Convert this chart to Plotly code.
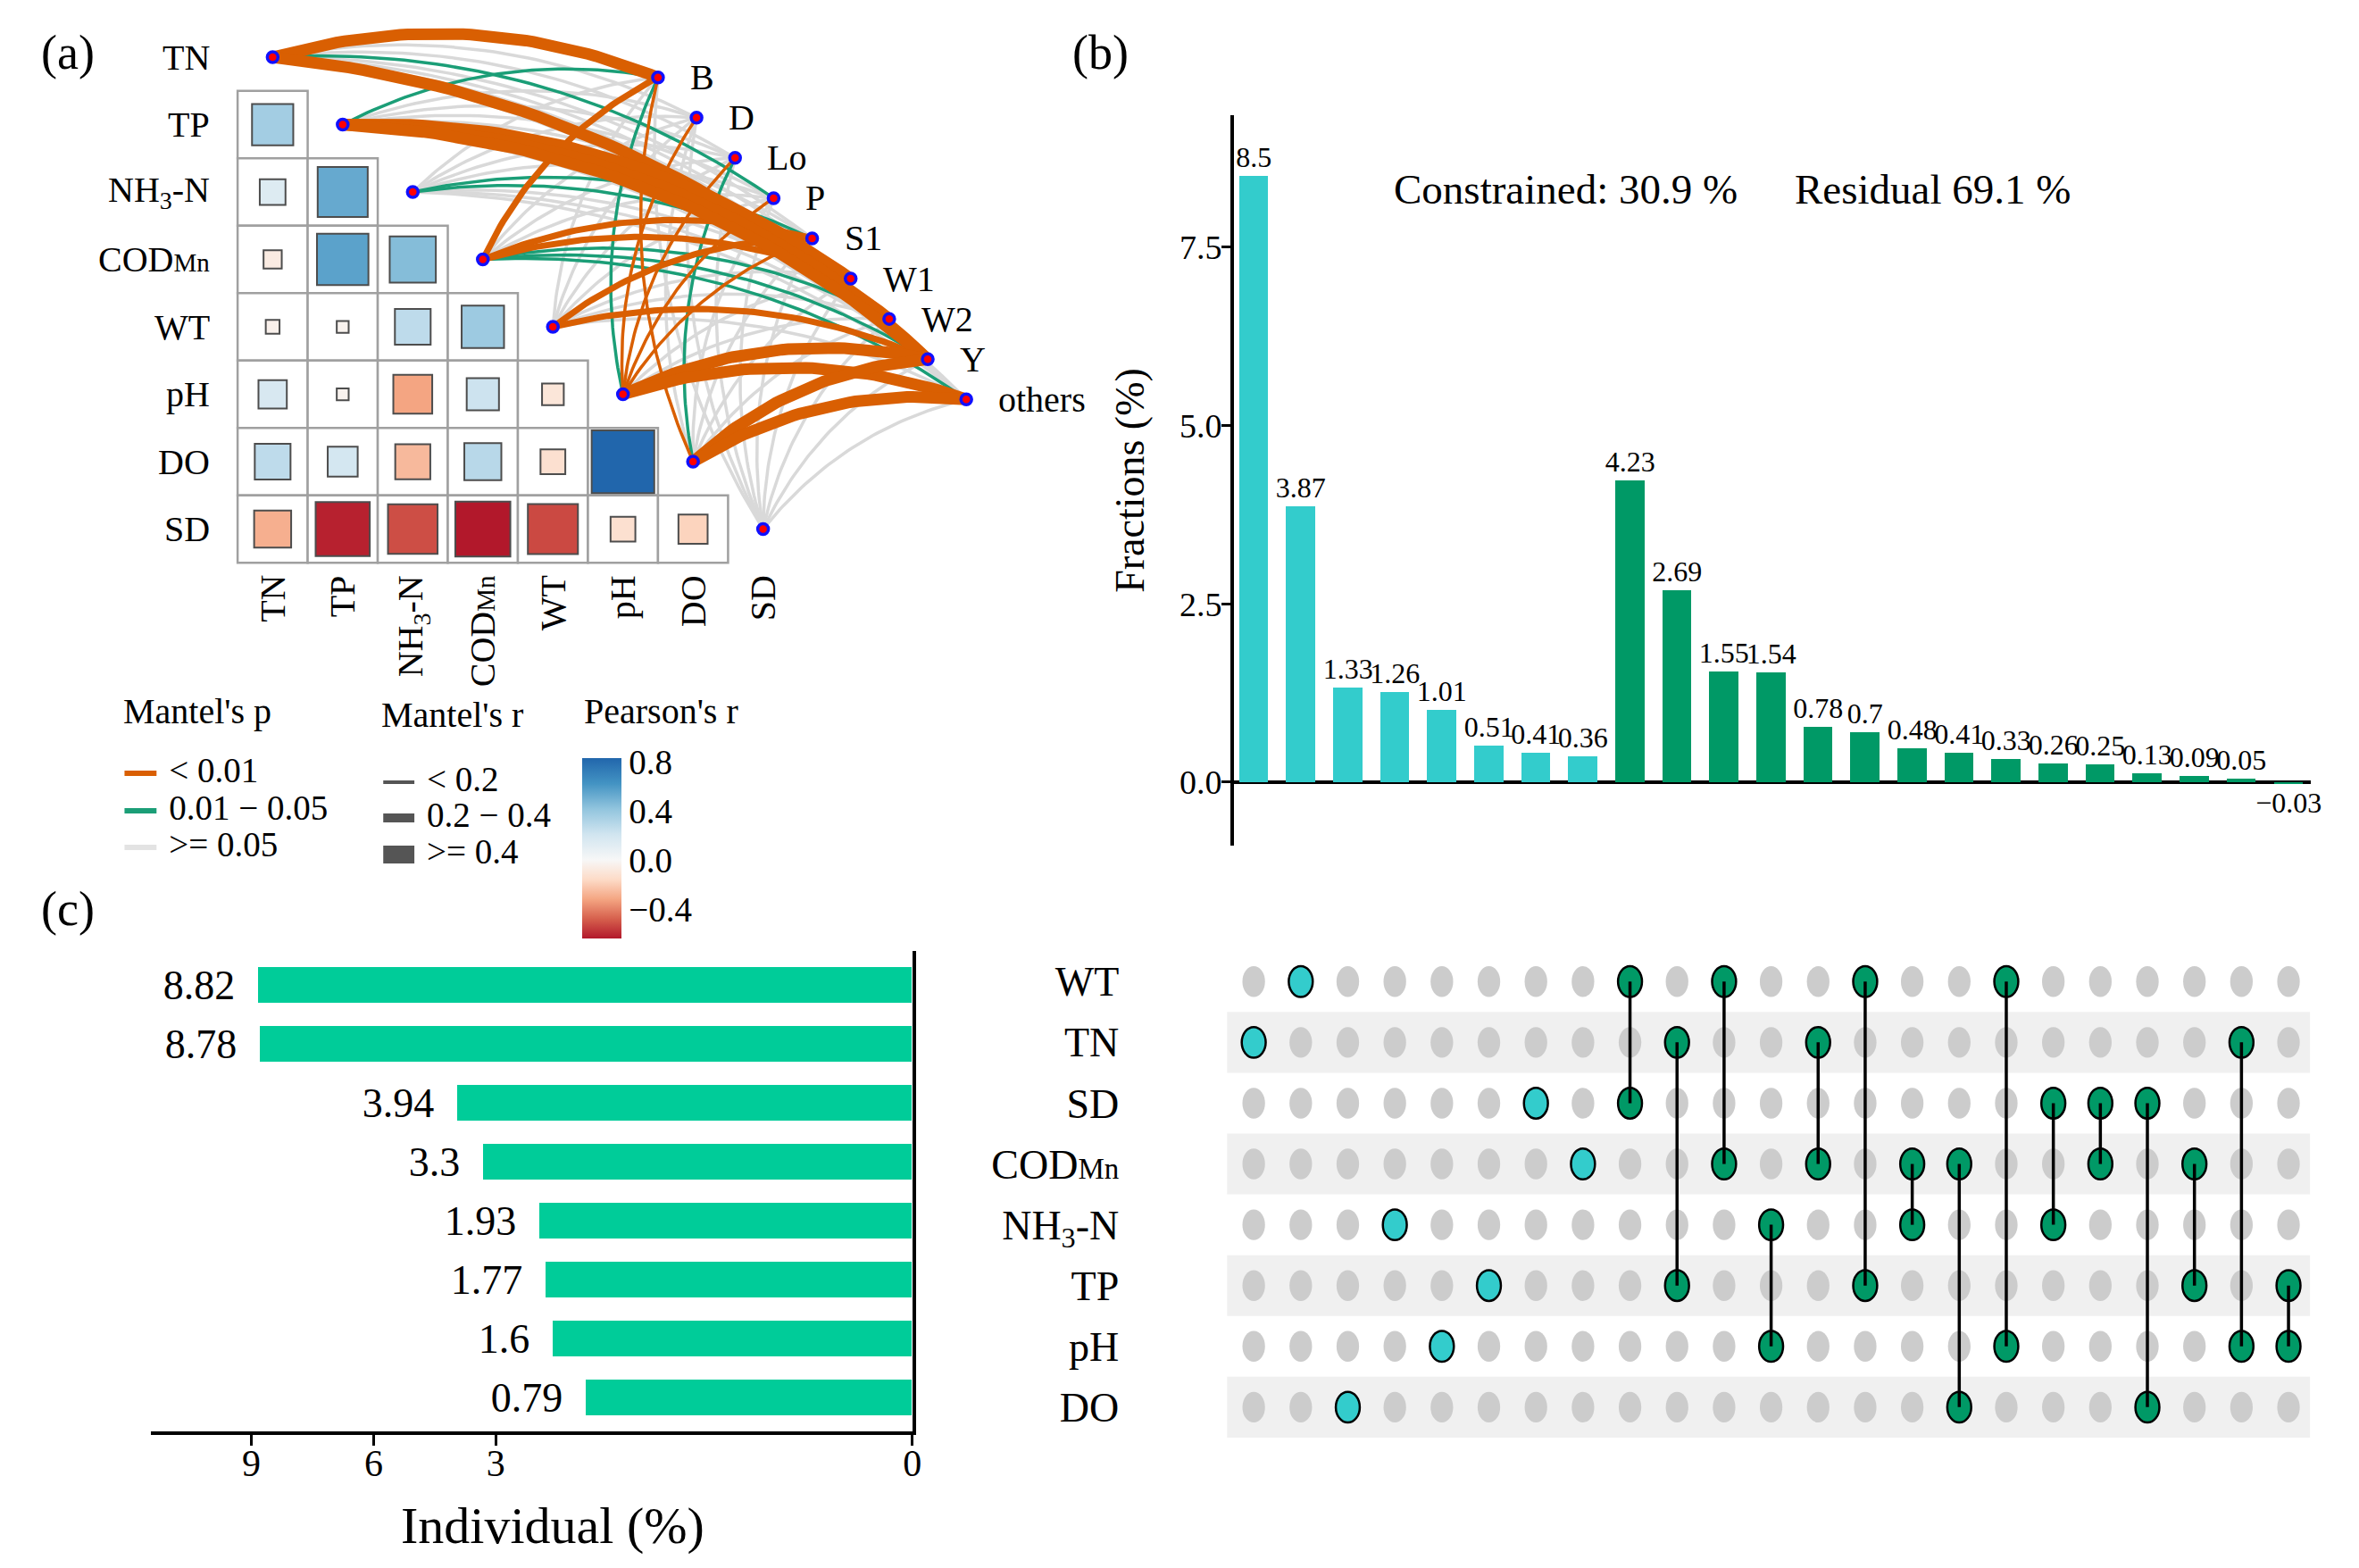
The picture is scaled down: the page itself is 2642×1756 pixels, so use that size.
import numpy as np
import plotly.graph_objects as go

W, H = 2642, 1756
PAGE_PAD = 8                       # default <body> margin of the written page
FW, FH = W - 2 * PAGE_PAD, H - 2 * PAGE_PAD
SERIF = "Liberation Serif, Times New Roman, serif"

# ----------------------------- data -----------------------------
ENV_VARS = ["TN", "TP", "NH3-N", "CODMn", "WT", "pH", "DO", "SD"]
ENV_LABELS = ["TN", "TP", "NH<sub>3</sub>-N",
              "COD<span style='font-size:29px'>Mn</span>", "WT", "pH", "DO", "SD"]
SPECIES = ["B", "D", "Lo", "P", "S1", "W1", "W2", "Y", "others"]

# Pearson's r, lower triangle (row variable vs earlier columns)
PEARSON_R = [
    [],
    [0.36],
    [0.14, 0.53],
    [-0.07, 0.56, 0.45],
    [-0.04, -0.03, 0.27, 0.38],
    [0.17, -0.03, -0.32, 0.22, -0.10],
    [0.27, 0.19, -0.26, 0.29, -0.13, 0.83],
    [-0.29, -0.62, -0.52, -0.64, -0.53, -0.13, -0.18],
]

# Mantel's p class (0: <0.01, 1: 0.01-0.05, 2: >=0.05), env rows x species cols
MANTEL_P_CLASS = [
    [0, 2, 2, 1, 2, 2, 2, 0, 2],  # TN
    [1, 2, 2, 2, 2, 0, 0, 0, 2],  # TP
    [2, 2, 2, 2, 1, 1, 2, 2, 2],  # NH3-N
    [0, 2, 2, 2, 0, 0, 1, 1, 1],  # CODMn
    [2, 2, 2, 2, 0, 2, 2, 0, 2],  # WT
    [1, 0, 0, 0, 0, 2, 2, 0, 0],  # pH
    [0, 2, 1, 2, 2, 2, 2, 0, 0],  # DO
    [2, 2, 2, 2, 2, 2, 2, 2, 2],  # SD
]
# Mantel's r class (0: <0.2, 1: 0.2-0.4, 2: >=0.4)
MANTEL_R_CLASS = [
    [2, 0, 0, 0, 0, 0, 0, 2, 0],
    [0, 0, 0, 0, 0, 2, 2, 2, 0],
    [0, 0, 0, 0, 0, 0, 0, 0, 0],
    [1, 0, 0, 0, 1, 1, 0, 0, 0],
    [0, 0, 0, 0, 1, 0, 0, 1, 0],
    [0, 0, 0, 0, 0, 0, 0, 2, 2],
    [0, 0, 0, 0, 0, 0, 0, 2, 2],
    [0, 0, 0, 0, 0, 0, 0, 0, 0],
]
P_CLASS_NAMES = ["&lt; 0.01", "0.01 \u2212 0.05", "&gt;= 0.05"]
R_CLASS_NAMES = ["&lt; 0.2", "0.2 \u2212 0.4", "&gt;= 0.4"]

# Panel (b): variance fractions for each combination (upset columns)
FRACTIONS = [8.5, 3.87, 1.33, 1.26, 1.01, 0.51, 0.41, 0.36,
             4.23, 2.69, 1.55, 1.54, 0.78, 0.7, 0.48, 0.41, 0.33, 0.26, 0.25,
             0.13, 0.09, 0.05, -0.03]
COMBOS = [["TN"], ["WT"], ["DO"], ["NH3-N"], ["pH"], ["TP"], ["SD"], ["CODMn"],
          ["WT", "SD"], ["TN", "TP"], ["WT", "CODMn"], ["NH3-N", "pH"],
          ["TN", "CODMn"], ["WT", "TP"], ["CODMn", "NH3-N"], ["CODMn", "DO"],
          ["WT", "pH"], ["SD", "NH3-N"], ["SD", "CODMn"], ["SD", "DO"],
          ["CODMn", "TP"], ["TN", "pH"], ["TP", "pH"]]

# Panel (c): individual effects
UPSET_ROWS = ["WT", "TN", "SD", "CODMn", "NH3-N", "TP", "pH", "DO"]
UPSET_LABELS = ["WT", "TN", "SD", "COD<span style='font-size:33px'>Mn</span>",
                "NH<sub>3</sub>-N", "TP", "pH", "DO"]
INDIVIDUAL = [8.82, 8.78, 3.94, 3.3, 1.93, 1.77, 1.6, 0.79]

# ----------------------------- style -----------------------------
ORANGE, GREEN, GRAY_EDGE = "#D95F02", "#1B9E77", "#D9D9D9"
P_COLORS = [ORANGE, GREEN, GRAY_EDGE]
P_KEY_COLORS = [ORANGE, GREEN, "#E3E3E3"]
R_WIDTHS = [3.5, 7, 13]
R_KEY_WIDTHS = [4, 10, 20]
CYAN, DKGREEN, MINT = "#33CCCC", "#009966", "#00CC99"


def fx(px):
    return (px - PAGE_PAD) / FW


def fy(py):
    return 1 - (py - PAGE_PAD) / FH


fig = go.Figure()

# ============================ panel (a) ============================
A_C0, A_R0 = 306.6, 64.05    # pixel centre of column 0 / row 0
CW, CH = 78.8, 75.5           # cell size in pixels
A_L, A_R, A_T, A_B = 120, 1260, 10, 800


def col_u(px):
    return (px - A_C0) / CW


def row_u(py):
    return (py - A_R0) / CH


SP_C0, SP_DC, SP_R0, SP_DR = 5.5, 0.55, 0.3, 0.597


def species_pos(j):
    return SP_C0 + SP_DC * j, SP_R0 + SP_DR * j


def curve(p0, p1, k=0.17, n=50):
    x0, y0 = p0[0] * CW, p0[1] * CH
    x1, y1 = p1[0] * CW, p1[1] * CH
    dx, dy = x1 - x0, y1 - y0
    cx, cy = (x0 + x1) / 2 + k * dy, (y0 + y1) / 2 - k * dx
    t = np.linspace(0, 1, n)
    bx = (1 - t) ** 2 * x0 + 2 * (1 - t) * t * cx + t ** 2 * x1
    by = (1 - t) ** 2 * y0 + 2 * (1 - t) * t * cy + t ** 2 * y1
    return bx / CW, by / CH


# edges: grey first, then green, then orange on top
for p in [2, 1, 0]:
    for rc in [0, 1, 2]:
        xs, ys = [], []
        for i in range(len(ENV_VARS)):
            for j in range(len(SPECIES)):
                if MANTEL_P_CLASS[i][j] == p and MANTEL_R_CLASS[i][j] == rc:
                    bx, by = curve((i, i), species_pos(j))
                    xs += list(bx) + [None]
                    ys += list(by) + [None]
        if xs:
            fig.add_trace(go.Scatter(x=xs, y=ys, mode="lines",
                                     line=dict(color=P_COLORS[p], width=R_WIDTHS[rc]),
                                     hoverinfo="skip", showlegend=False,
                                     xaxis="x", yaxis="y"))

# matrix grid
shapes = []
for i in range(1, len(ENV_VARS)):
    for j in range(i):
        shapes.append(dict(type="rect", xref="x", yref="y",
                           x0=j - 0.5, x1=j + 0.5, y0=i - 0.5, y1=i + 0.5,
                           line=dict(color="#A0A0A0", width=2.5),
                           fillcolor="white", layer="below"))

# correlation squares
sq_x, sq_y, sq_r = [], [], []
for i, row in enumerate(PEARSON_R):
    for j, r in enumerate(row):
        sq_x.append(j)
        sq_y.append(i)
        sq_r.append(r)
sq_r = np.array(sq_r)
CMIN, CMAX = float(sq_r.min()), float(sq_r.max())
z0 = -CMIN / (CMAX - CMIN)
neg = ["#B2182B", "#D6604D", "#F4A582", "#FDDBC7", "#F7F7F7"]
pos = ["#F7F7F7", "#D1E5F0", "#92C5DE", "#4393C3", "#2166AC"]
cscale = [[z0 * k / 4, neg[k]] for k in range(5)] + \
         [[z0 + (1 - z0) * k / 4, pos[k]] for k in range(1, 5)]
fig.add_trace(go.Scatter(
    x=sq_x, y=sq_y, mode="markers", xaxis="x", yaxis="y", showlegend=False,
    hoverinfo="skip",
    marker=dict(symbol="square", size=np.sqrt(np.abs(sq_r)) * 77, opacity=1,
                color=sq_r, colorscale=cscale, cmin=CMIN, cmax=CMAX,
                line=dict(color="#4D4D4D", width=2),
                colorbar=dict(x=fx(655), xanchor="left", y=fy(849), yanchor="top",
                              len=202 / FH, lenmode="fraction", thickness=44,
                              thicknessmode="pixels", outlinewidth=0, xpad=0, ypad=0,
                              tickvals=[0.8, 0.4, 0.0, -0.4],
                              ticktext=["0.8", "0.4", "0.0", "\u22120.4"],
                              ticks="", tickfont=dict(size=39, family=SERIF)))))

# nodes
node_style = dict(symbol="circle", size=12, color="#FF0000", opacity=1,
                  line=dict(color="#1010FF", width=3.5))
fig.add_trace(go.Scatter(x=list(range(len(ENV_VARS))), y=list(range(len(ENV_VARS))),
                         mode="markers", marker=node_style, xaxis="x", yaxis="y",
                         showlegend=False, hoverinfo="skip", cliponaxis=False))
sp_pts = [species_pos(j) for j in range(len(SPECIES))]
fig.add_trace(go.Scatter(x=[p[0] for p in sp_pts], y=[p[1] for p in sp_pts],
                         mode="markers", marker=node_style, xaxis="x", yaxis="y",
                         showlegend=False, hoverinfo="skip", cliponaxis=False))

annotations = []
for j, sp in enumerate(SPECIES):
    annotations.append(dict(text=sp, xref="x", yref="y", x=sp_pts[j][0], y=sp_pts[j][1],
                            xanchor="left", yanchor="middle", xshift=34,
                            showarrow=False, font=dict(size=40)))
for i, lab in enumerate(ENV_LABELS):
    annotations.append(dict(text=lab, xref="paper", yref="y", x=fx(238), y=i,
                            xanchor="right", yanchor="middle", showarrow=False,
                            font=dict(size=40)))
    annotations.append(dict(text=lab, xref="x", yref="paper", x=i, y=fy(642),
                            textangle=-90, xanchor="center", yanchor="top",
                            showarrow=False, font=dict(size=40)))

# ---- legend keys of panel (a) (own small axes, units = page pixels) ----
LEG_L, LEG_R, LEG_T, LEG_B = 120, 660, 840, 990
P_KEY_X, P_TXT_X, P_KEY_Y = (140, 176), 190, [866, 908, 949]
R_KEY_X, R_TXT_X, R_KEY_Y = (431, 466), 480, [876, 916, 957]
for k in range(3):
    fig.add_trace(go.Scatter(x=list(P_KEY_X), y=[P_KEY_Y[k]] * 2, mode="lines",
                             line=dict(color=P_KEY_COLORS[k], width=6),
                             xaxis="x5", yaxis="y5", showlegend=False, hoverinfo="skip"))
    fig.add_trace(go.Scatter(x=list(R_KEY_X), y=[R_KEY_Y[k]] * 2, mode="lines",
                             line=dict(color="#555555", width=R_KEY_WIDTHS[k]),
                             xaxis="x5", yaxis="y5", showlegend=False, hoverinfo="skip"))
fig.add_trace(go.Scatter(x=[P_TXT_X] * 3 + [R_TXT_X] * 3, y=P_KEY_Y + R_KEY_Y,
                         mode="text", text=P_CLASS_NAMES + R_CLASS_NAMES,
                         textposition="middle right",
                         textfont=dict(size=39, family=SERIF, color="black"),
                         xaxis="x5", yaxis="y5", showlegend=False, hoverinfo="skip",
                         cliponaxis=False))

# ============================ panel (b) ============================
cols = list(range(1, len(FRACTIONS) + 1))
bar_colors = [CYAN if len(c) == 1 else DKGREEN for c in COMBOS]
fig.add_trace(go.Bar(x=cols, y=FRACTIONS, marker=dict(color=bar_colors, line=dict(width=0)),
                     width=0.62, text=[f"{v:g}".replace("-", "\u2212") for v in FRACTIONS],
                     textposition="outside", constraintext="none", cliponaxis=False,
                     textfont=dict(size=32, family=SERIF, color="black"),
                     xaxis="x2", yaxis="y2", showlegend=False, hoverinfo="skip"))

# ============================ panel (c) ============================
AXIS_GAP = 7.22   # gap between the bar origin and the "0" axis, as drawn in the original
rows = list(range(1, len(UPSET_ROWS) + 1))
fig.add_trace(go.Bar(y=rows, x=[v + AXIS_GAP for v in INDIVIDUAL], base=-AXIS_GAP,
                     orientation="h", width=0.6, marker=dict(color=MINT, line=dict(width=0)),
                     text=[f"{v:g}\u2002" for v in INDIVIDUAL], textposition="outside",
                     constraintext="none", cliponaxis=False,
                     textfont=dict(size=46, family=SERIF, color="black"),
                     xaxis="x3", yaxis="y3", showlegend=False, hoverinfo="skip"))

# ============================ upset matrix ============================
for r in rows:
    if r % 2 == 0:
        shapes.append(dict(type="rect", xref="x4 domain", yref="y4", x0=0, x1=1,
                           y0=r - 0.5, y1=r + 0.5, fillcolor="#F0F0F0",
                           line=dict(width=0), layer="below"))
RX, RY = 0.24, 0.253
for c, combo in enumerate(COMBOS, start=1):
    members = [UPSET_ROWS.index(v) + 1 for v in combo]
    for r in rows:
        if r in members:
            shapes.append(dict(type="circle", xref="x4", yref="y4",
                               x0=c - RX - 0.015, x1=c + RX + 0.015,
                               y0=r - RY, y1=r + RY,
                               fillcolor=CYAN if len(combo) == 1 else DKGREEN,
                               line=dict(color="black", width=2.5), layer="above"))
        else:
            shapes.append(dict(type="circle", xref="x4", yref="y4",
                               x0=c - RX, x1=c + RX, y0=r - RY, y1=r + RY,
                               fillcolor="#CCCCCC", line=dict(width=0), layer="above"))
for c, combo in enumerate(COMBOS, start=1):
    members = [UPSET_ROWS.index(v) + 1 for v in combo]
    if len(members) > 1:
        shapes.append(dict(type="line", xref="x4", yref="y4", x0=c, x1=c,
                           y0=min(members), y1=max(members),
                           line=dict(color="black", width=3.5), layer="above"))
fig.add_trace(go.Scatter(x=[1], y=[1], xaxis="x4", yaxis="y4", mode="markers",
                         marker=dict(size=1, color="rgba(0,0,0,0)"),
                         showlegend=False, hoverinfo="skip"))

# ============================ text ============================
annotations += [
    dict(text="(a)", x=fx(76), y=fy(59), font=dict(size=54)),
    dict(text="(b)", x=fx(1238), y=fy(59), font=dict(size=54)),
    dict(text="(c)", x=fx(76), y=fy(1018), font=dict(size=54)),
    dict(text="Mantel's p", x=fx(137), y=fy(796), xanchor="left", font=dict(size=40)),
    dict(text="Mantel's r", x=fx(427), y=fy(800), xanchor="left", font=dict(size=40)),
    dict(text="Pearson's r", x=fx(655), y=fy(796), xanchor="left", font=dict(size=40)),
    dict(text="Constrained: 30.9 %", x=fx(1566), y=fy(212), xanchor="left", font=dict(size=47)),
    dict(text="Residual 69.1 %", x=fx(2016), y=fy(212), xanchor="left", font=dict(size=47)),
    dict(text="Individual (%)", x=fx(622), y=fy(1708), font=dict(size=58)),
]
for a in annotations:
    a.setdefault("xref", "paper")
    a.setdefault("yref", "paper")
    a.setdefault("showarrow", False)
    a.setdefault("xanchor", "center")
    a.setdefault("yanchor", "middle")

B_X0 = 1410
B_STEP = 52.9
hidden = dict(visible=False, showgrid=False, zeroline=False)
fig.update_layout(
    width=FW, height=FH, margin=dict(l=0, r=0, t=0, b=0), autosize=False,
    paper_bgcolor="white", plot_bgcolor="rgba(0,0,0,0)",
    font=dict(family=SERIF, color="black", size=36),
    shapes=shapes, annotations=annotations, bargap=0, showlegend=False,
    xaxis=dict(domain=[fx(A_L), fx(A_R)], range=[col_u(A_L), col_u(A_R)], **hidden),
    yaxis=dict(domain=[fy(A_B), fy(A_T)], range=[row_u(A_B), row_u(A_T)], **hidden),
    xaxis5=dict(domain=[fx(LEG_L), fx(LEG_R)], range=[LEG_L, LEG_R], anchor="y5", **hidden),
    yaxis5=dict(domain=[fy(LEG_B), fy(LEG_T)], range=[LEG_B, LEG_T], anchor="x5", **hidden),
    xaxis2=dict(domain=[fx(1388), fx(2599)], anchor="y2",
                range=[1 + (1388 - B_X0) / B_STEP, 1 + (2599 - B_X0) / B_STEP], **hidden),
    yaxis2=dict(domain=[fy(947), fy(129)], anchor="x2", range=[-0.89, 9.35],
                tickvals=[0, 2.5, 5, 7.5], ticktext=["0.0", "2.5", "5.0", "7.5"],
                showline=True, linewidth=4, linecolor="black", ticks="outside",
                ticklen=10, tickwidth=3, tickcolor="black", showgrid=False,
                zeroline=True, zerolinecolor="black", zerolinewidth=4,
                tickfont=dict(size=38), ticklabelstandoff=-8,
                title=dict(text="Fractions (%)", font=dict(size=46), standoff=26)),
    xaxis3=dict(domain=[fx(170), fx(1026)], anchor="y3", range=[11.46, -AXIS_GAP],
                tickvals=[-AXIS_GAP, 3, 6, 9], ticktext=["0", "3", "6", "9"],
                showline=True, linewidth=4, linecolor="black", ticks="outside",
                ticklen=12, tickwidth=3, tickcolor="black", showgrid=False, zeroline=False,
                tickfont=dict(size=42), ticklabelstandoff=-16),
    yaxis3=dict(domain=[fy(1603), fy(1065)], anchor="x3", range=[8.58, 0.42],
                side="right", showline=True, linewidth=4, linecolor="black",
                showticklabels=False, ticks="", showgrid=False, zeroline=False),
    xaxis4=dict(domain=[fx(1380), fx(2598)], anchor="y4",
                range=[1 + (1380 - B_X0) / B_STEP, 1 + (2598 - B_X0) / B_STEP], **hidden),
    yaxis4=dict(domain=[fy(1614), fy(1060)], anchor="x4", range=[8.56, 0.423],
                tickvals=rows, ticktext=UPSET_LABELS, ticks="", showline=False,
                showgrid=False, zeroline=False, tickfont=dict(size=46),
                ticklabelstandoff=120),
)

fig.write_html("out.html")
